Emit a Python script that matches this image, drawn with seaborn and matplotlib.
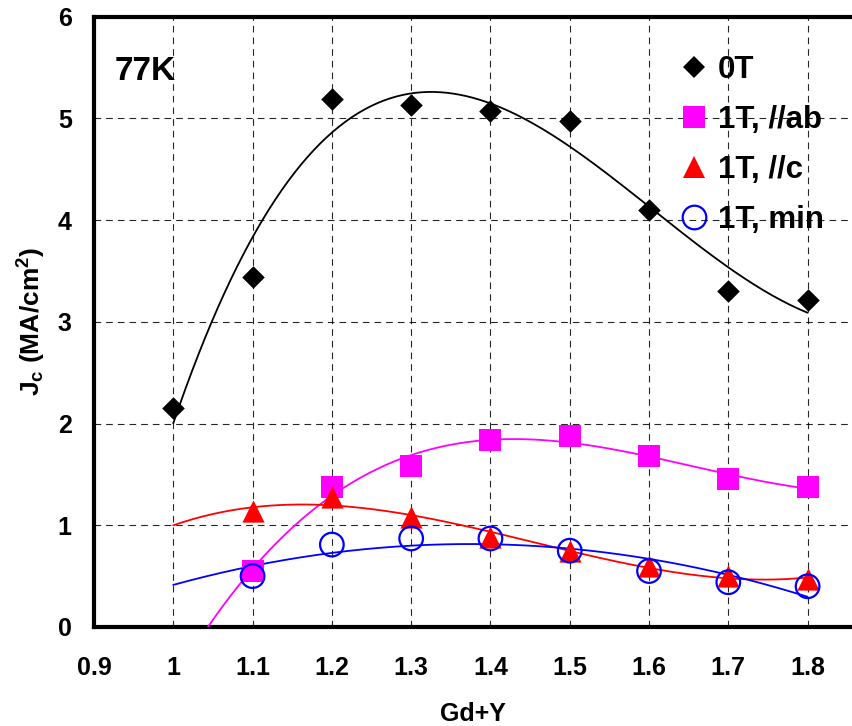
import numpy as np
import pandas as pd
import matplotlib
matplotlib.use("Agg")
import matplotlib.pyplot as plt
import seaborn as sns
from matplotlib.lines import Line2D

# ---- data ----
x_0T = [1.0, 1.1, 1.2, 1.3, 1.4, 1.5, 1.6, 1.7, 1.8]
y_0T = [2.15, 3.44, 5.19, 5.13, 5.07, 4.97, 4.10, 3.30, 3.21]

x_1T = [1.1, 1.2, 1.3, 1.4, 1.5, 1.6, 1.7, 1.8]
y_ab = [0.55, 1.38, 1.58, 1.84, 1.88, 1.68, 1.45, 1.38]
y_c = [1.14, 1.28, 1.08, 0.88, 0.75, 0.60, 0.50, 0.47]
y_min = [0.50, 0.81, 0.87, 0.87, 0.75, 0.55, 0.44, 0.40]

labels = ["0T", "1T, //ab", "1T, //c", "1T, min"]
colors = ["#000000", "#FF00FF", "#FF0000", "#0000FF"]
x_ticks = [0.9, 1.0, 1.1, 1.2, 1.3, 1.4, 1.5, 1.6, 1.7, 1.8]
x_tick_labels = ["0.9", "1", "1.1", "1.2", "1.3", "1.4", "1.5", "1.6", "1.7", "1.8"]
y_ticks = [0, 1, 2, 3, 4, 5, 6]

sns.set_theme(style="white")
plt.rcParams["font.family"] = ["Liberation Sans", "DejaVu Sans"]
plt.rcParams["font.weight"] = "bold"
plt.rcParams["text.color"] = "black"
plt.rcParams["axes.labelcolor"] = "black"
plt.rcParams["xtick.labelcolor"] = "black"
plt.rcParams["ytick.labelcolor"] = "black"
plt.rcParams["mathtext.fontset"] = "custom"
plt.rcParams["mathtext.bf"] = "Liberation Sans:bold"
plt.rcParams["mathtext.rm"] = "Liberation Sans:bold"
plt.rcParams["mathtext.default"] = "bf"

fig = plt.figure(figsize=(8.52, 7.26), dpi=100)
ax = fig.add_axes([94 / 852, 1 - 627 / 726, 1 - 94 / 852, (627 - 16.5) / 726])

# trend lines (polynomial fits of the data, as in the original spreadsheet chart)
xf = np.linspace(1.0, 1.8, 200)
fits = [
    (x_0T, y_0T, 3, colors[0]),
    (x_1T, y_ab, 3, colors[1]),
    (x_1T, y_c, 3, colors[2]),
    (x_1T, y_min, 2, colors[3]),
]
for xs, ys, deg, col in fits:
    p = np.polyfit(xs, ys, deg)
    ax.plot(xf, np.polyval(p, xf), color=col, lw=1.3, zorder=3)

# markers
df0 = pd.DataFrame({"x": x_0T, "y": y_0T})
df1 = pd.DataFrame({"x": x_1T, "ab": y_ab, "c": y_c, "mn": y_min})
sns.scatterplot(data=df0, x="x", y="y", ax=ax, marker="D", s=11.5**2,
                color=colors[0], edgecolor=colors[0], linewidth=0, zorder=4)
sns.scatterplot(data=df1, x="x", y="ab", ax=ax, marker="s", s=16**2,
                color=colors[1], edgecolor=colors[1], linewidth=0, zorder=4)
sns.scatterplot(data=df1, x="x", y="c", ax=ax, marker="^", s=16**2,
                color=colors[2], edgecolor=colors[2], linewidth=0, zorder=5)
sns.scatterplot(data=df1, x="x", y="mn", ax=ax, marker="o", s=17**2,
                facecolor="none", edgecolor=colors[3], linewidth=1.6, zorder=6)

ax.set_xlim(0.9, 1.856)
ax.set_ylim(0, 6)
ax.set_xticks(x_ticks)
ax.set_xticklabels(x_tick_labels)
ax.set_yticks(y_ticks)
ax.tick_params(axis="both", which="major", labelsize=18, length=6, width=1,
               color="#808080", direction="out")
ax.tick_params(axis="x", pad=15)
ax.tick_params(axis="y", pad=10)
for lab in ax.get_xticklabels() + ax.get_yticklabels():
    lab.set_fontweight("bold")

ax.grid(True, color="#000000", linestyle=(0, (6, 4.5)), linewidth=0.8, alpha=0.85)
ax.set_axisbelow(True)
for s in ["left", "bottom", "top"]:
    ax.spines[s].set_color("black")
    ax.spines[s].set_linewidth(3)
ax.spines["right"].set_visible(False)

ax.set_xlabel("Gd+Y", fontsize=18, fontweight="bold", labelpad=16)
ax.set_ylabel(r"J$_{c}$ (MA/cm$^{2}$)", fontsize=19, fontweight="bold", labelpad=7)

ax.text(0.027, 0.935, "77K", transform=ax.transAxes, fontsize=24, fontweight="bold",
        va="top", ha="left")

handles = [
    Line2D([], [], marker="D", color="none", markerfacecolor=colors[0], markeredgewidth=0, markersize=11.5),
    Line2D([], [], marker="s", color="none", markerfacecolor=colors[1], markeredgewidth=0, markersize=16),
    Line2D([], [], marker="^", color="none", markerfacecolor=colors[2], markeredgewidth=0, markersize=16),
    Line2D([], [], marker="o", color="none", markerfacecolor="none", markeredgecolor=colors[3],
           markeredgewidth=1.6, markersize=17),
]
leg = ax.legend(handles, labels, loc="upper left", bbox_to_anchor=(0.755, 0.958),
                frameon=False, prop={"size": 22.5, "weight": "bold"},
                handlelength=1.0, handletextpad=0.25, labelspacing=0.64, borderaxespad=0)

fig.savefig("out.png", dpi=100)
